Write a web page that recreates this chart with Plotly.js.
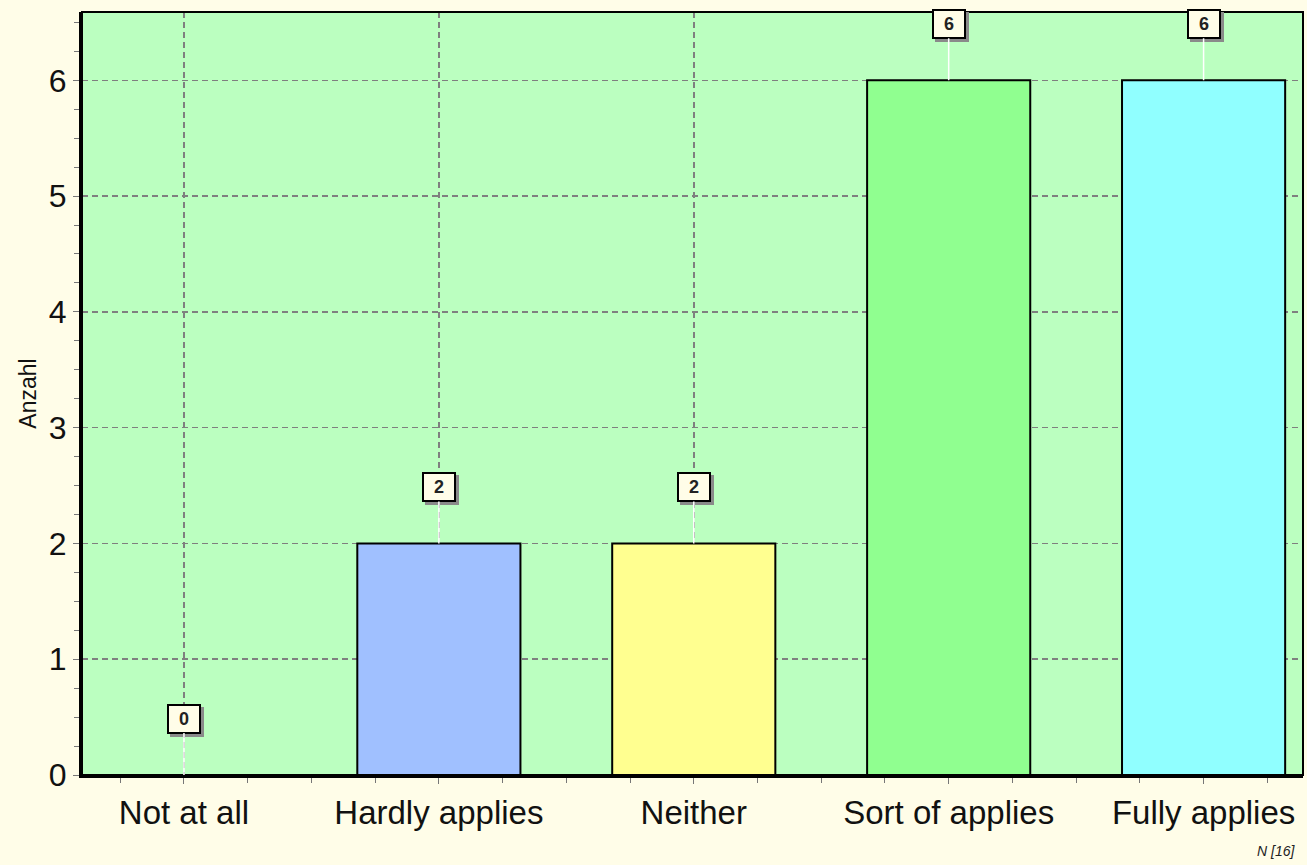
<!DOCTYPE html>
<html><head><meta charset="utf-8">
<script src="https://cdn.plot.ly/plotly-3.0.1.min.js"></script>
<style>html,body{margin:0;padding:0;background:#fffde8;}#chart{width:1307px;height:865px;}</style>
</head><body><div id="chart"></div>
<script>
const categories = ["Not at all", "Hardly applies", "Neither", "Sort of applies", "Fully applies"];
const counts = [0, 2, 2, 6, 6];
const barColors = ["#bbffc0", "#a0c0ff", "#ffff90", "#90ff90", "#90ffff"];
const nLabel = "N [16]";
const yTitle = "Anzahl";

const xs = categories.map((c, i) => i);
const FONT = "Liberation Sans, Arial, sans-serif";

const trace = {
  type: "bar",
  x: xs,
  y: counts,
  width: 0.64,
  marker: {color: barColors, line: {color: "#000", width: 2}},
  hoverinfo: "none"
};

const annotations = [];
counts.forEach((v, i) => {
  // shadow box (no text)
  annotations.push({x: xs[i], y: v, xref: "x", yref: "y", text: "&nbsp;", showarrow: true,
    arrowcolor: "rgba(0,0,0,0)", arrowhead: 0, ax: 3, ay: -53,
    width: 22, height: 18,
    bgcolor: "#8a8a8a", bordercolor: "#8a8a8a", borderwidth: 2, borderpad: 4,
    font: {family: FONT, size: 18, color: "rgba(0,0,0,0)"}});
  annotations.push({x: xs[i], y: v, xref: "x", yref: "y", text: "<b>" + v + "</b>", showarrow: true,
    arrowcolor: "#ffffff", arrowwidth: 1.5, arrowhead: 0, ax: 0, ay: -56,
    width: 22, height: 18,
    bgcolor: "#fffde8", bordercolor: "#000", borderwidth: 2, borderpad: 4,
    font: {family: FONT, size: 18, color: "#222"}});
});
annotations.push({xref: "paper", yref: "paper", x: 1, y: 0, yshift: -66, xshift: -6,
  xanchor: "right", yanchor: "top", showarrow: false, text: "<i>" + nLabel + "</i>",
  font: {family: FONT, size: 14, color: "#222"}});

const layout = {
  width: 1307, height: 865,
  margin: {l: 82, r: 4, t: 12, b: 90},
  paper_bgcolor: "#fffde8",
  plot_bgcolor: "#bbffc0",
  showlegend: false,
  bargap: 0,
  font: {family: FONT, color: "#111"},
  xaxis: {
    range: [-0.4, 4.39],
    tickvals: xs, ticktext: categories,
    tickfont: {size: 33, color: "#111"},
    ticks: "outside", ticklen: 6, tickcolor: "#777", tickwidth: 1,
    minor: {dtick: 0.25, tick0: 0, ticks: "outside", ticklen: 5, tickcolor: "#777", showgrid: false},
    showgrid: true, gridcolor: "#7f7f7f", griddash: "6px,4px", gridwidth: 1.5,
    zeroline: false,
    showline: true, linecolor: "#000", linewidth: 3,
    fixedrange: true
  },
  yaxis: {
    range: [0, 6.59],
    dtick: 1, tick0: 0,
    tickfont: {size: 32, color: "#111"},
    ticks: "outside", ticklen: 6, tickcolor: "#777", tickwidth: 1,
    minor: {dtick: 0.25, tick0: 0, ticks: "outside", ticklen: 5, tickcolor: "#777", showgrid: false},
    showgrid: true, gridcolor: "#7f7f7f", griddash: "6px,4px", gridwidth: 1.5,
    zeroline: false,
    showline: true, linecolor: "#000", linewidth: 3,
    title: {text: yTitle, font: {size: 23, color: "#111"}, standoff: 6},
    fixedrange: true
  },
  shapes: [
    {type: "rect", xref: "paper", yref: "paper", x0: 0, x1: 1, y0: 0, y1: 1,
     line: {color: "#000", width: 2}, fillcolor: "rgba(0,0,0,0)", layer: "above"}
  ],
  annotations: annotations
};

Plotly.newPlot("chart", [trace], layout, {displayModeBar: false, staticPlot: true});
</script>
</body></html>
